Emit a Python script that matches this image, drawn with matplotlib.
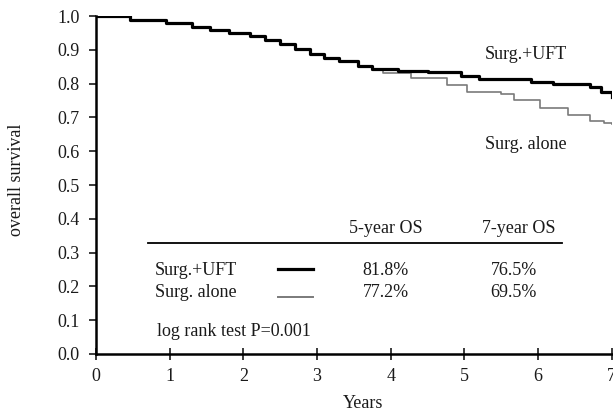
import matplotlib

matplotlib.use("Agg")
import matplotlib.pyplot as plt

plt.rcParams["font.family"] = ["Liberation Serif", "DejaVu Serif"]

# Kaplan-Meier curves (time in years, survival)
UFT_TIMES = [0.0, 0.46, 0.95, 1.3, 1.55, 1.8, 2.09, 2.3, 2.5, 2.7, 2.9, 3.1, 3.3,
             3.55, 3.75, 4.1, 4.5, 4.95, 5.2, 5.9, 6.2, 6.7, 6.85, 7.0]
UFT_SURV = [1.0, 0.988, 0.978, 0.968, 0.959, 0.950, 0.940, 0.930, 0.918, 0.903,
            0.889, 0.877, 0.866, 0.852, 0.843, 0.838, 0.834, 0.823, 0.814, 0.806,
            0.798, 0.789, 0.775, 0.760]

ALONE_TIMES = [0.0, 0.46, 0.95, 1.3, 1.55, 1.8, 2.09, 2.3, 2.5, 2.7, 2.9, 3.1, 3.3,
               3.55, 3.75, 3.9, 4.27, 4.77, 5.04, 5.49, 5.67, 6.03, 6.4, 6.71, 6.9, 7.0]
ALONE_SURV = [1.0, 0.988, 0.978, 0.968, 0.959, 0.950, 0.940, 0.930, 0.918, 0.903,
              0.889, 0.877, 0.866, 0.852, 0.840, 0.830, 0.816, 0.796, 0.776, 0.768,
              0.751, 0.727, 0.707, 0.690, 0.683, 0.680]

GROUPS = ["Surg.+UFT", "Surg. alone"]
OS_HEADERS = ["5-year OS", "7-year OS"]
OS_5Y = ["81.8%", "77.2%"]
OS_7Y = ["76.5%", "69.5%"]
X_TICKS = [0, 1, 2, 3, 4, 5, 6, 7]
Y_TICKS = [0.0, 0.1, 0.2, 0.3, 0.4, 0.5, 0.6, 0.7, 0.8, 0.9, 1.0]

FS = 13
TXT = "#1a1a1a"

fig = plt.figure(figsize=(6.13, 4.12), dpi=100)
ax = fig.add_axes([0.1566, 0.1408, 0.8414, 0.8203])

ax.step(ALONE_TIMES, ALONE_SURV, where="post", color="#7a7a7a", linewidth=1.2)
ax.step(UFT_TIMES, UFT_SURV, where="post", color="black", linewidth=2.3)

ax.set_xlim(0, 7)
ax.set_ylim(0, 1.0)
ax.set_xticks(X_TICKS)
ax.set_yticks(Y_TICKS)
ax.set_yticklabels([f"{v:.1f}" for v in Y_TICKS])
ax.spines["top"].set_visible(False)
ax.spines["right"].set_visible(False)
ax.spines["left"].set_linewidth(1.8)
ax.spines["bottom"].set_linewidth(1.8)
ax.tick_params(axis="y", direction="out", length=5, width=1.2, pad=7,
               labelsize=FS, colors=TXT)
ax.tick_params(axis="x", direction="inout", length=8, width=1.2, pad=6,
               labelsize=FS, colors=TXT)
ax.set_xlabel("Years", fontsize=FS, color=TXT)
ax.xaxis.set_label_coords(0.517, -0.122)
ax.set_ylabel("overall survival", fontsize=FS, color=TXT)
ax.yaxis.set_label_coords(-0.137, 0.515)

# curve labels
ax.text(5.83, 0.885, GROUPS[0], ha="center", va="center", fontsize=FS, color=TXT)
ax.text(5.83, 0.621, GROUPS[1], ha="center", va="center", fontsize=FS, color=TXT)

# inset summary table
ax.plot([0.71, 6.33], [0.327, 0.327], color="black", linewidth=1.3)
ax.text(3.93, 0.372, OS_HEADERS[0], ha="center", va="center", fontsize=FS, color=TXT)
ax.text(5.74, 0.372, OS_HEADERS[1], ha="center", va="center", fontsize=FS, color=TXT)

row_y = [0.248, 0.183]
ax.text(0.80, row_y[0], GROUPS[0], ha="left", va="center", fontsize=FS, color=TXT)
ax.text(0.80, row_y[1], GROUPS[1], ha="left", va="center", fontsize=FS, color=TXT)
ax.plot([2.47, 2.95], [0.251, 0.251], color="black", linewidth=2.3)
ax.plot([2.47, 2.95], [0.168, 0.168], color="#7a7a7a", linewidth=1.4)
for i in range(2):
    ax.text(3.93, row_y[i], OS_5Y[i], ha="center", va="center", fontsize=FS, color=TXT)
    ax.text(5.67, row_y[i], OS_7Y[i], ha="center", va="center", fontsize=FS, color=TXT)

ax.text(0.83, 0.067, "log rank test P=0.001", ha="left", va="center", fontsize=FS,
        color=TXT)

fig.savefig("out.png", dpi=100)
